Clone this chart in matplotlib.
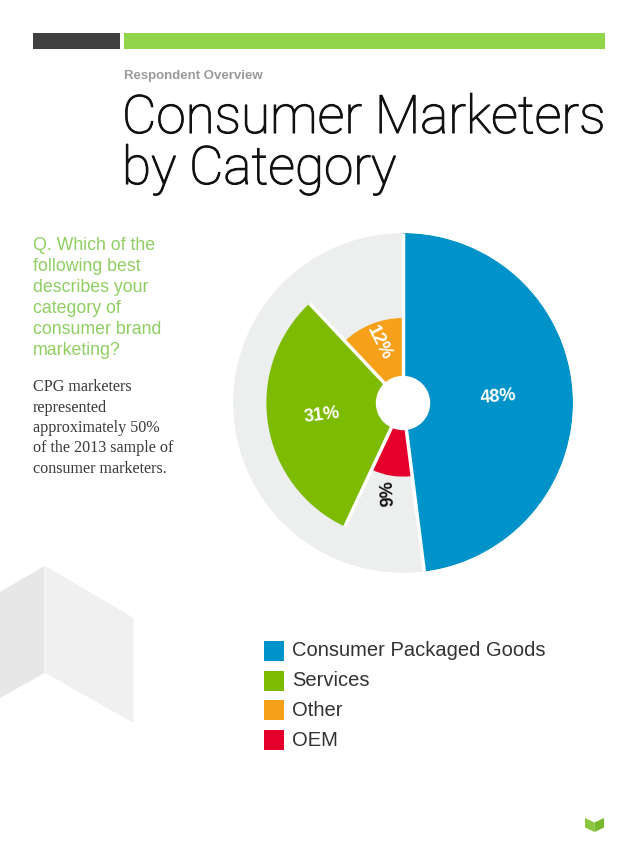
import numpy as np
import matplotlib
matplotlib.use("Agg")
import matplotlib.pyplot as plt
import matplotlib.patheffects as pe
from matplotlib.patches import Polygon, Rectangle

# data (legend order)
categories = ["Consumer Packaged Goods", "Services", "Other", "OEM"]
shares = [48, 31, 12, 9]
colors = ["#0093C9", "#7DBB00", "#F7A11A", "#E4002B"]
# clockwise drawing order starting at 12 o'clock
pie_order = [0, 3, 1, 2]

W, H = 638, 851
fig = plt.figure(figsize=(W / 100, H / 100), dpi=100)
fig.patch.set_facecolor("white")

# page layer in pixel coordinates
bg = fig.add_axes([0, 0, 1, 1])
bg.set_xlim(0, W)
bg.set_ylim(H, 0)
bg.axis("off")

# header bars
bg.add_patch(Rectangle((33, 33), 87, 16, color="#404040", lw=0))
bg.add_patch(Rectangle((124, 33), 481, 16, color="#92D44A", lw=0))

# decorative shapes bottom-left
bg.add_patch(Polygon([(0, 592), (44.5, 566), (44.5, 673), (0, 698)], closed=True, color="#E7E7E7", lw=0))
bg.add_patch(Polygon([(45.5, 566), (133.5, 618), (133.5, 723), (45.5, 673)], closed=True, color="#F0F0F0", lw=0))

# logo bottom-right
bg.add_patch(Polygon([(585, 818), (594.5, 822.5), (594.5, 832), (585, 827.5)], closed=True, color="#8CC63F", lw=0))
bg.add_patch(Polygon([(594.5, 822.5), (604, 818), (604, 827.5), (594.5, 832)], closed=True, color="#76B82A", lw=0))

sans = ["Liberation Sans", "DejaVu Sans"]
bg.text(124, 76, "Respondent Overview", fontsize=9.5, fontweight="bold", color="#9A9A9A",
        family=sans, va="center", ha="left")
for i, line in enumerate(["Consumer Marketers", "by Category"]):
    bg.text(122, 133 + i * 51, line, fontsize=38.2, color="#111111",
            family=["Roboto", "DejaVu Sans"], fontweight="light",
            va="baseline", ha="left",
            path_effects=[pe.withStroke(linewidth=0.8, foreground="#111111")])

q_lines = ["Q. Which of the", "following best", "describes your", "category of",
           "consumer brand", "marketing?"]
for i, line in enumerate(q_lines):
    bg.text(33, 250 + i * 21, line, fontsize=12.8, color="#8FCF62", family=sans,
            va="baseline", ha="left")

note_lines = ["CPG marketers", "represented", "approximately 50%",
              "of the 2013 sample of", "consumer marketers."]
for i, line in enumerate(note_lines):
    bg.text(33, 391 + i * 20.5, line, fontsize=11.6, color="#3A3A3A",
            family=["Liberation Serif", "DejaVu Serif"], va="baseline", ha="left")

# legend
for i, (cat, col) in enumerate(zip(categories, colors)):
    y0 = 641 + i * 29.7
    bg.add_patch(Rectangle((264, y0), 20, 20, color=col, lw=0))
    bg.text(292, y0 + 10, cat, fontsize=14.5, color="#333333", family=sans,
            va="center", ha="left")

# polar area chart
cx, cy, R = 403, 403, 170
ax = fig.add_axes([(cx - R) / W, (H - cy - R) / H, 2 * R / W, 2 * R / H], projection="polar")
ax.set_theta_zero_location("N")
ax.set_theta_direction(-1)
ax.set_ylim(0, 1)
ax.axis("off")

ax.bar(0, 1.0, width=2 * np.pi, color="#EDEEEE", lw=0, align="edge")

vmax = max(shares)
start = 0.0
label_r = {0: 0.56, 1: 0.48, 2: 0.38, 3: 0.54}
label_rot = {0: 5, 1: 7, 2: -63, 3: 93}
label_col = {0: "white", 1: "white", 2: "white", 3: "#111111"}
edges = []
for idx in pie_order:
    width = shares[idx] / 100 * 2 * np.pi
    radius = np.sqrt(shares[idx] / vmax)
    ax.bar(start, radius, width=width, align="edge", color=colors[idx], lw=0)
    edges.append((start, radius))
    mid = start + width / 2
    ax.text(mid, label_r[idx], f"{shares[idx]}%", rotation=label_rot[idx],
            rotation_mode="anchor", ha="center", va="center", fontsize=13,
            fontweight="bold", color=label_col[idx], family=sans)
    start += width

# white separators between neighbouring slices
for k, (theta, r) in enumerate(edges):
    r_prev = edges[k - 1][1]
    ax.plot([theta, theta], [0, max(r, r_prev)], color="white", lw=2.5,
            solid_capstyle="butt")

ax.bar(0, 0.16, width=2 * np.pi, color="white", lw=0, align="edge")

fig.savefig("out.png", dpi=100, facecolor="white")
